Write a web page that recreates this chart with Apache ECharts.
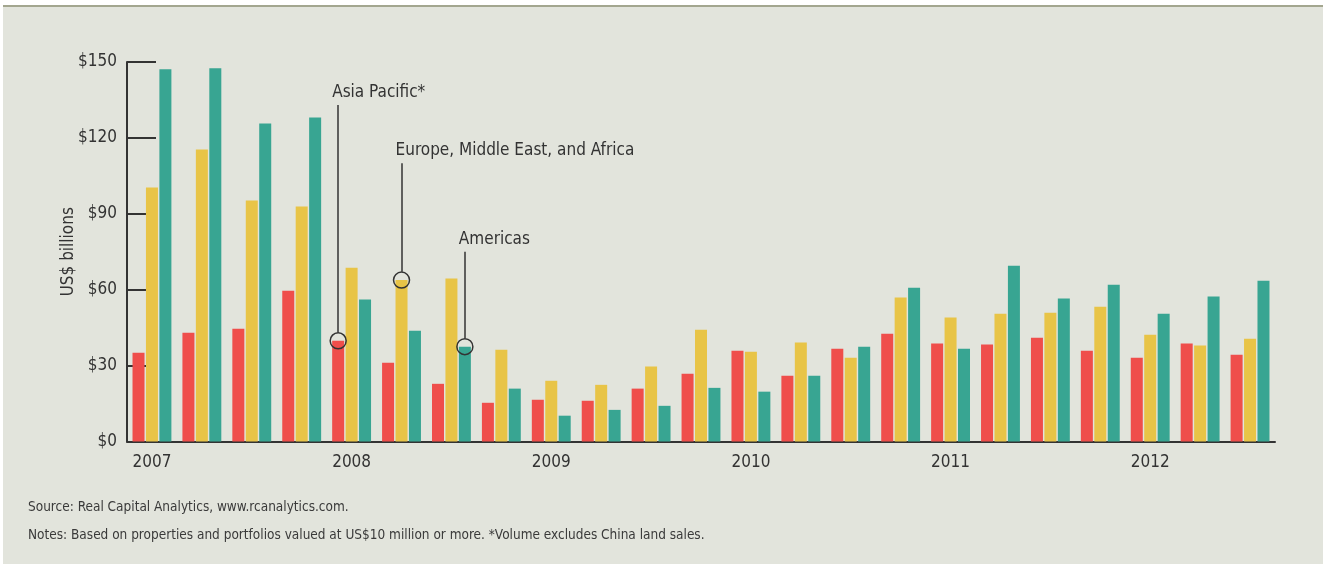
<!DOCTYPE html>
<html>
<head>
<meta charset="utf-8">
<script src="https://cdn.jsdelivr.net/npm/echarts@6.0.0/dist/echarts.min.js"></script>
<style>
  html, body { margin: 0; padding: 0; background: #ffffff; }
  #rule { position: absolute; left: 3px; top: 5px; width: 1320px; height: 2px; background: #a3a68f; }
  #chart { position: absolute; left: 3px; top: 7px; width: 1320px; height: 557px; background: #e2e4dc; }
</style>
</head>
<body>
<div id="rule"></div>
<div id="chart"></div>
<script>
// quarterly volumes, US$ billions
const quarters = [
  '2007 Q1', '2007 Q2', '2007 Q3', '2007 Q4',
  '2008 Q1', '2008 Q2', '2008 Q3', '2008 Q4',
  '2009 Q1', '2009 Q2', '2009 Q3', '2009 Q4',
  '2010 Q1', '2010 Q2', '2010 Q3', '2010 Q4',
  '2011 Q1', '2011 Q2', '2011 Q3', '2011 Q4',
  '2012 Q1', '2012 Q2', '2012 Q3'
]
const asiaPacific = [35.1, 43.0, 44.6, 59.6, 39.8, 31.1, 22.8, 15.3, 16.5, 16.1, 20.9, 26.8,
  35.9, 26.0, 36.7, 42.6, 38.7, 38.3, 41.0, 35.9, 33.1, 38.7, 34.3]
const emea = [100.4, 115.4, 95.3, 92.9, 68.7, 63.8, 64.4, 36.3, 24.0, 22.4, 29.6, 44.2,
  35.5, 39.1, 33.1, 56.9, 49.0, 50.5, 50.9, 53.3, 42.2, 37.9, 40.6]
const americas = [147.1, 147.5, 125.7, 128.1, 56.1, 43.8, 37.5, 20.9, 10.2, 12.5, 14.1, 21.2,
  19.7, 26.0, 37.5, 60.8, 36.7, 69.5, 56.5, 62.0, 50.5, 57.3, 63.5]
const yTicks = [0, 30, 60, 90, 120, 150]

const colors = {
  asia: '#ef4e4b',
  emea: '#e8c447',
  americas: '#38a592',
  ink: '#333333'
}
const font = "'Liberation Sans Narrow', 'DejaVu Sans Condensed', Roboto, sans-serif"

// callout: circle on the bar top, a leader line up to the label
function callout(name, quarter, value, labelValue) {
  return {
    markPoint: {
      symbol: 'circle',
      symbolSize: 16,
      silent: true,
      label: { show: false },
      itemStyle: { color: 'rgba(0,0,0,0)', borderColor: colors.ink, borderWidth: 1.5 },
      data: [
        { coord: [quarter, value] },
        {
          coord: [quarter, labelValue],
          symbolSize: 0,
          itemStyle: { borderWidth: 0 },
          label: {
            show: true,
            position: 'top',
            align: 'left',
            offset: [-6, -1],
            distance: 3,
            formatter: name,
            color: colors.ink,
            fontFamily: font,
            fontSize: 17
          }
        }
      ]
    },
    markLine: {
      symbol: ['none', 'none'],
      silent: true,
      label: { show: false },
      lineStyle: { color: colors.ink, width: 1.5, type: 'solid' },
      data: [[{ coord: [quarter, value + 3.3] }, { coord: [quarter, labelValue] }]]
    }
  }
}

function barSeries(name, data, color, note) {
  return Object.assign({
    name: name,
    type: 'bar',
    data: data,
    barWidth: 12,
    barGap: '12%',
    itemStyle: { color: color }
  }, note)
}

const chart = echarts.init(document.getElementById('chart'))

chart.setOption({
  animation: false,
  grid: { left: 124, right: 48, top: 55, bottom: 122.5 },
  xAxis: {
    type: 'category',
    data: quarters,
    boundaryGap: true,
    axisLine: { lineStyle: { color: colors.ink, width: 2 } },
    axisTick: { inside: true, length: 8, interval: 0, lineStyle: { color: colors.ink, width: 2 } },
    axisLabel: {
      interval: 0,
      margin: 13,
      color: colors.ink,
      fontFamily: font,
      fontSize: 17,
      formatter: (v, i) => (i % 4 === 0 ? v.slice(0, 4) : '')
    }
  },
  yAxis: {
    type: 'value',
    min: yTicks[0],
    max: yTicks[yTicks.length - 1],
    interval: 30,
    name: 'US$ billions',
    nameLocation: 'middle',
    nameGap: 50,
    nameMoveOverlap: false,
    nameTextStyle: { color: colors.ink, fontFamily: font, fontSize: 17 },
    splitLine: { show: false },
    axisLine: { show: true, lineStyle: { color: colors.ink, width: 2 } },
    axisTick: { show: true, inside: true, length: 29, lineStyle: { color: colors.ink, width: 2 } },
    axisLabel: {
      margin: 10,
      color: colors.ink,
      fontFamily: font,
      fontSize: 17,
      formatter: v => '$' + v
    }
  },
  series: [
    barSeries('Asia Pacific*', asiaPacific, colors.asia,
      callout('Asia Pacific*', '2008 Q1', asiaPacific[4], 133)),
    barSeries('Europe, Middle East, and Africa', emea, colors.emea,
      callout('Europe, Middle East, and Africa', '2008 Q2', emea[5], 110)),
    barSeries('Americas', americas, colors.americas,
      callout('Americas', '2008 Q3', americas[6], 75))
  ],
  graphic: [
    {
      type: 'text',
      left: 25,
      top: 493,
      style: {
        text: 'Source: Real Capital Analytics, www.rcanalytics.com.',
        fill: '#3a3a3a',
        font: "13.5px 'Liberation Sans Narrow', 'DejaVu Sans Condensed', Roboto, sans-serif"
      }
    },
    {
      type: 'text',
      left: 25,
      top: 521,
      style: {
        text: 'Notes: Based on properties and portfolios valued at US$10 million or more. *Volume excludes China land sales.',
        fill: '#3a3a3a',
        font: "13.5px 'Liberation Sans Narrow', 'DejaVu Sans Condensed', Roboto, sans-serif"
      }
    }
  ]
})
</script>
</body>
</html>
